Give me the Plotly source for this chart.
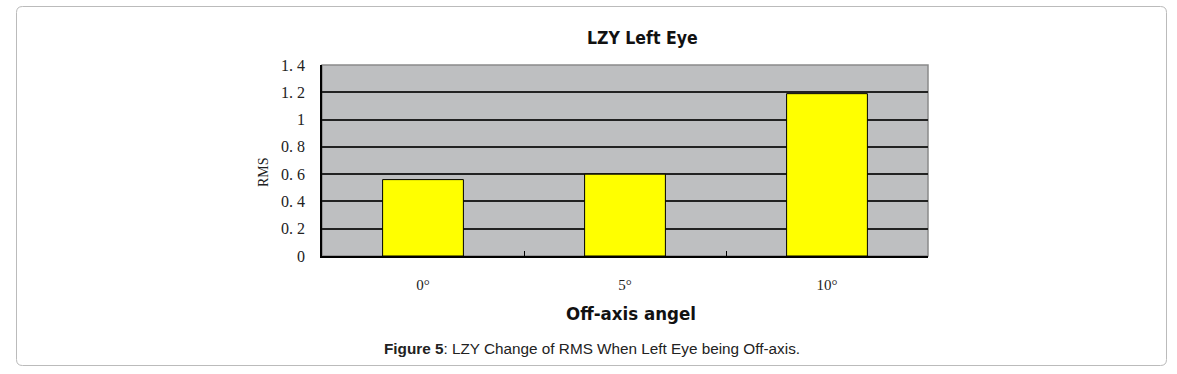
import plotly.graph_objects as go

categories = ["0°", "5°", "10°"]
rms_values = [0.56, 0.60, 1.19]
y_tick_vals = [0, 0.2, 0.4, 0.6, 0.8, 1.0, 1.2, 1.4]
y_tick_text = ["0", "0. 2", "0. 4", "0. 6", "0. 8", "1", "1. 2", "1. 4"]

W, H = 1177, 374
L, R, T, B = 322, 928, 65, 256

def px(x):
    return (x - L) / (R - L)

def py(y):
    return (B - y) / (B - T)

fig = go.Figure()
fig.add_trace(go.Bar(
    x=categories, y=rms_values, width=0.4,
    marker=dict(color="#FFFF00", line=dict(color="#000000", width=1)),
    showlegend=False, hoverinfo="x+y",
))

# rounded outer frame
x0, x1, y0, y1, r = 16.5, 1166.5, 6.5, 365.5, 6
path = (f"M {px(x0 + r)},{py(y0)} L {px(x1 - r)},{py(y0)} "
        f"Q {px(x1)},{py(y0)} {px(x1)},{py(y0 + r)} "
        f"L {px(x1)},{py(y1 - r)} Q {px(x1)},{py(y1)} {px(x1 - r)},{py(y1)} "
        f"L {px(x0 + r)},{py(y1)} Q {px(x0)},{py(y1)} {px(x0)},{py(y1 - r)} "
        f"L {px(x0)},{py(y0 + r)} Q {px(x0)},{py(y0)} {px(x0 + r)},{py(y0)} Z")
fig.add_shape(type="path", path=path, xref="paper", yref="paper",
              line=dict(color="#BBBBBB", width=1), layer="below")
# plot frame (gray top/right)
fig.add_shape(type="rect", x0=0, x1=1, y0=0, y1=1, xref="paper", yref="paper",
              line=dict(color="#8A8A8A", width=1.5), layer="below")

fig.update_layout(
    width=W, height=H,
    margin=dict(l=L, r=W - R, t=T, b=H - B),
    paper_bgcolor="white",
    plot_bgcolor="#BEBFC1",
    bargap=0.6,
    xaxis=dict(
        type="category", showgrid=False, showline=True, linecolor="#000000", linewidth=1.5,
        ticks="inside", tickson="boundaries", ticklen=5, tickcolor="#000000",
        tickfont=dict(family="Liberation Serif", size=15, color="#222222"),
        ticklabelstandoff=14, zeroline=False,
    ),
    yaxis=dict(
        range=[0, 1.4], tickvals=y_tick_vals, ticktext=y_tick_text,
        showgrid=True, gridcolor="#222222", gridwidth=1.5,
        showline=True, linecolor="#000000", linewidth=1.5, zeroline=False,
        ticks="", tickfont=dict(family="Liberation Serif", size=16, color="#222222"),
        ticklabelstandoff=12,
    ),
    annotations=[
        dict(text="<b>LZY Left Eye</b>", x=px(642), y=py(38), xref="paper", yref="paper",
             showarrow=False, font=dict(family="DejaVu Sans Condensed, DejaVu Sans", size=17.5, color="#111111"),
             xanchor="center", yanchor="middle"),
        dict(text="<b>Off-axis angel</b>", x=px(631), y=py(313), xref="paper", yref="paper",
             showarrow=False, font=dict(family="DejaVu Sans Condensed, DejaVu Sans", size=18.5, color="#111111"),
             xanchor="center", yanchor="middle"),
        dict(text="RMS", x=px(263), y=py(172), xref="paper", yref="paper", textangle=-90,
             showarrow=False, font=dict(family="Liberation Serif", size=14, color="#222222"),
             xanchor="center", yanchor="middle"),
        dict(text="<b>Figure 5</b>: LZY Change of RMS When Left Eye being Off-axis.",
             x=px(591.5), y=py(348), xref="paper", yref="paper",
             showarrow=False, font=dict(family="Liberation Sans, Arial", size=15.3, color="#222222"),
             xanchor="center", yanchor="middle"),
    ],
)

fig.write_html("out.html", config={"displayModeBar": False},
               post_script="document.body.style.margin='0';")
